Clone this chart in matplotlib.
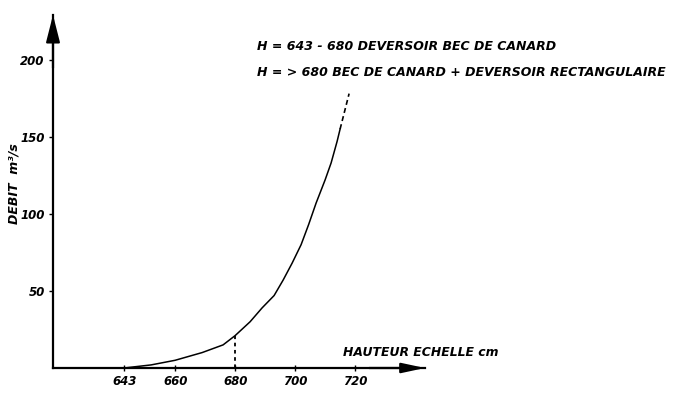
import matplotlib
matplotlib.use("Agg")
import matplotlib.pyplot as plt

# ================== DATA ==================
# rating curve, water level (cm) vs discharge (m3/s)
h_solid = [643, 652, 660, 669, 676, 680, 685, 689, 693, 696, 699, 702,
           704.5, 707, 710, 712, 714, 715]
q_solid = [0, 2, 5, 10, 15, 21, 30, 39, 47, 57, 68, 80,
           93, 107, 122, 133, 147, 155]
h_dash = [715, 718]
q_dash = [155, 178]

x_ticks = [643, 660, 680, 700, 720]
y_ticks = [50, 100, 150, 200]
h_limit = 680
q_limit = 21

notes = [
    "H = 643 - 680 DEVERSOIR BEC DE CANARD",
    "H = > 680 BEC DE CANARD + DEVERSOIR RECTANGULAIRE",
]

# ================== CHART ==================
W, H = 673, 399
fig = plt.figure(figsize=(W / 100, H / 100), dpi=100)
fig.patch.set_facecolor("white")
ax = fig.add_axes([53 / W, (H - 368) / H, (425 - 53) / W, (368 - 15) / H])
ax.set_xlim(619.3, 743.3)
ax.set_ylim(0, 229)

font = dict(fontweight="bold", fontstyle="italic", family="DejaVu Sans")

ax.plot(h_solid, q_solid, color="black", lw=1.1)
ax.plot(h_dash, q_dash, color="black", lw=1.2, ls=(0, (3, 2)))
ax.plot([h_limit, h_limit], [0, q_limit], color="black", lw=1.3, ls=(0, (2, 2)))

for s in ["top", "right"]:
    ax.spines[s].set_visible(False)
for s in ["left", "bottom"]:
    ax.spines[s].set_linewidth(1.6)

# arrow heads (long narrow, like the hand drawing)
ax.annotate("", xy=(0, 1), xycoords="axes fraction", xytext=(0, 0.85),
            arrowprops=dict(arrowstyle="-|>,head_length=1.65,head_width=0.42",
                            color="black", lw=1.6, shrinkA=0, shrinkB=0))
ax.annotate("", xy=(1, 0), xycoords="axes fraction", xytext=(0.85, 0),
            arrowprops=dict(arrowstyle="-|>,head_length=1.4,head_width=0.3",
                            color="black", lw=1.6, shrinkA=0, shrinkB=0))

ax.set_xticks(x_ticks)
ax.set_xticklabels([str(t) for t in x_ticks], **font, fontsize=8.5)
ax.set_yticks(y_ticks)
ax.set_yticklabels([str(t) for t in y_ticks], **font, fontsize=8.5)
ax.tick_params(axis="x", direction="inout", length=4, width=1, pad=3)
ax.tick_params(axis="y", direction="out", length=3, width=1, pad=3)

fig.text(343 / W, 1 - 353 / H, "HAUTEUR ECHELLE cm",
         fontsize=8.9, ha="left", va="center", **font)
fig.text(14 / W, 1 - 184 / H, "DEBIT  m³/s", rotation=90, fontsize=9,
         ha="center", va="center", **font)

fig.text(257 / W, 1 - 47 / H, notes[0], fontsize=9, ha="left", va="center", **font)
fig.text(257 / W, 1 - 73 / H, notes[1], fontsize=9, ha="left", va="center", **font)

plt.savefig("out.png", dpi=100, facecolor=fig.get_facecolor())
plt.close()
